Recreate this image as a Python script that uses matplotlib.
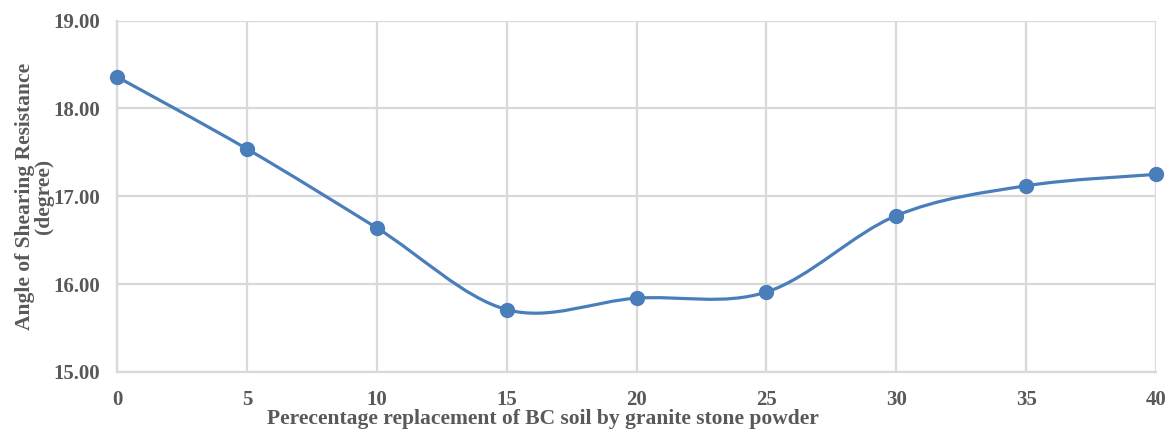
import numpy as np
import matplotlib.pyplot as plt
from matplotlib.path import Path
from matplotlib.patches import PathPatch

# --- data ---
replacement = [0, 5, 10, 15, 20, 25, 30, 35, 40]
angle = [18.36, 17.54, 16.64, 15.71, 15.84, 15.91, 16.78, 17.12, 17.25]
x_ticks = [0, 5, 10, 15, 20, 25, 30, 35, 40]
y_ticks = [15, 16, 17, 18, 19]

line_col = '#4a7ebb'
grid_col = '#d9d9d9'
text_col = '#595959'

plt.rcParams['font.family'] = ['Liberation Serif', 'DejaVu Serif']

fig = plt.figure(figsize=(11.69, 4.30), dpi=100)
ax = fig.add_axes([0.1001, 0.135, 0.8889, 0.817])


def smooth_path(xs, ys):
    # Excel-style smoothed line: Catmull-Rom segments as cubic Bezier curves
    pts = np.column_stack([xs, ys]).astype(float)
    n = len(pts)
    verts = [pts[0]]
    codes = [Path.MOVETO]
    for i in range(n - 1):
        p0 = pts[max(i - 1, 0)]
        p1 = pts[i]
        p2 = pts[i + 1]
        p3 = pts[min(i + 2, n - 1)]
        c1 = p1 + (p2 - p0) / 6.0
        c2 = p2 - (p3 - p1) / 6.0
        verts += [c1, c2, p2]
        codes += [Path.CURVE4] * 3
    return Path(verts, codes)


ax.add_patch(PathPatch(smooth_path(replacement, angle), fill=False,
                       edgecolor=line_col, linewidth=2.3, zorder=3,
                       capstyle='round', joinstyle='round'))
ax.plot(replacement, angle, 'o', color=line_col, markersize=10, zorder=4,
        clip_on=False)

ax.set_xlim(0, 40)
ax.set_ylim(15, 19)
ax.set_xticks(x_ticks)
ax.set_yticks(y_ticks)
ax.set_yticklabels([f'{v:.2f}' for v in y_ticks])

ax.grid(True, color=grid_col, linewidth=1.6)
ax.set_axisbelow(True)
for side in ['top', 'right']:
    ax.spines[side].set_visible(False)
for side in ['left', 'bottom']:
    ax.spines[side].set_color(grid_col)
    ax.spines[side].set_linewidth(1.6)

ax.tick_params(axis='both', length=0, labelsize=15, labelcolor=text_col)
ax.tick_params(axis='y', pad=12)
ax.tick_params(axis='x', pad=13)
for lab in ax.get_xticklabels() + ax.get_yticklabels():
    lab.set_fontweight('bold')

ax.set_ylabel('Angle of Shearing Resistance\n(degree)', fontsize=15.5,
              fontweight='bold', color=text_col, linespacing=0.95)
ax.yaxis.set_label_coords(-0.0606, 0.5)
ax.set_xlabel('Perecentage replacement of BC soil by granite stone powder',
              fontsize=15.5, fontweight='bold', color=text_col)
ax.xaxis.set_label_coords(0.41, -0.105)

fig.savefig('out.png', dpi=100)
